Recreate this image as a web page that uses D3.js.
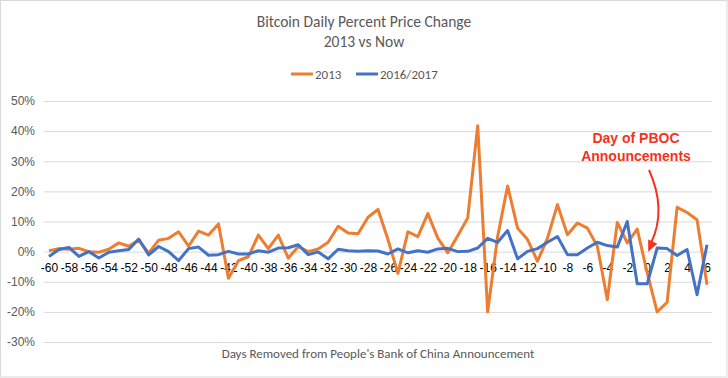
<!DOCTYPE html>
<html>
<head>
<meta charset="utf-8">
<script src="https://cdn.jsdelivr.net/npm/d3@7"></script>
<style>
  body { margin: 0; background: #fff; }
  svg { display: block; }
</style>
</head>
<body>
<div id="chart"></div>
<script>
// days relative to the PBOC announcement
const days = [-60, -59, -58, -57, -56, -55, -54, -53, -52, -51, -50, -49, -48, -47, -46, -45, -44, -43, -42, -41,
  -40, -39, -38, -37, -36, -35, -34, -33, -32, -31, -30, -29, -28, -27, -26, -25, -24, -23, -22, -21,
  -20, -19, -18, -17, -16, -15, -14, -13, -12, -11, -10, -9, -8, -7, -6, -5, -4, -3, -2, -1,
  0, 1, 2, 3, 4, 5, 6];

// daily % change, 2013
const series2013 = [0.3, 1.0, 0.8, 1.1, 0.0, -0.2, 0.8, 2.9, 1.8, 3.8, -0.4, 3.8, 4.4, 6.6, 1.8, 6.8, 5.5, 9.2, -8.8, -3.0,
  -1.7, 5.5, 1.0, 5.5, -2.2, 1.7, 0.0, 0.9, 3.1, 8.4, 6.2, 5.9, 11.4, 14.0, 4.0, -7.2, 6.6, 5.0, 12.6, 4.5,
  -0.4, 5.3, 11.2, 41.8, -20.0, 5.0, 21.8, 7.8, 4.0, -3.2, 4.5, 15.6, 5.6, 9.5, 7.8, 1.8, -16.0, 9.7, 2.9, 7.5,
  -7.0, -20.0, -16.8, 14.7, 13.0, 10.6, -11.0];

// daily % change, 2016/2017
const series2017 = [-1.6, 0.7, 1.4, -1.6, 0.0, -2.1, -0.2, 0.3, 0.7, 4.2, -1.1, 1.7, 0.0, -3.0, 1.0, 1.5, -1.2, -1.0, 0.1, -0.8,
  -0.8, 0.3, -0.2, 1.2, 1.3, 2.3, -1.0, -0.1, -2.4, 0.8, 0.3, 0.1, 0.3, 0.2, -0.8, 0.9, -0.4, 0.3, -0.2, 0.9,
  1.1, 0.0, 0.1, 1.2, 4.4, 3.1, 7.0, -2.4, 0.1, 1.0, 3.1, 5.0, -1.0, -1.0, 1.2, 3.1, 2.0, 1.5, 10.0, -10.7,
  -10.7, 1.2, 1.0, -1.3, 0.7, -14.3, 2.3];

const yTicks = [-30, -20, -10, 0, 10, 20, 30, 40, 50];
const xTickLabels = days.filter(d => d % 2 === 0);

const seriesList = [
  { name: "2013", values: series2013, color: "#ED7D31" },
  { name: "2016/2017", values: series2017, color: "#4472C4" }
];

const width = 728, height = 378;
const plot = { left: 44, right: 712, top: 101, bottom: 342 };
const textGray = "#595959";
const calibri = "Carlito, Lato, 'Open Sans', sans-serif";
const arial = "'Liberation Sans', Arial, sans-serif";

const svg = d3.select("#chart").append("svg")
  .attr("width", width)
  .attr("height", height);

svg.append("rect")
  .attr("x", 0.5).attr("y", 0.5)
  .attr("width", width - 1.5).attr("height", height - 1.5)
  .attr("fill", "#fff")
  .attr("stroke", "#d9d9d9");

const x = d3.scalePoint()
  .domain(days)
  .range([plot.left, plot.right])
  .padding(0.5);

const y = d3.scaleLinear()
  .domain([-30, 50])
  .range([plot.bottom, plot.top]);

// gridlines + y labels
const yAxis = d3.axisLeft(y)
  .tickValues(yTicks)
  .tickSize(-(plot.right - plot.left))
  .tickPadding(9)
  .tickFormat(d => d + "%");

const yg = svg.append("g")
  .attr("transform", `translate(${plot.left},0)`)
  .call(yAxis);
yg.select(".domain").remove();
yg.selectAll(".tick line").attr("stroke", "#d9d9d9");
yg.selectAll(".tick text")
  .attr("fill", textGray)
  .style("font-family", arial)
  .style("font-size", "12px");

// x labels sit next to the zero line
const xAxis = d3.axisBottom(x)
  .tickValues(xTickLabels)
  .tickSize(0)
  .tickPadding(12);

const xg = svg.append("g")
  .attr("transform", `translate(0,${y(0)})`)
  .call(xAxis);
xg.select(".domain").remove();
xg.selectAll(".tick text")
  .attr("fill", "#000")
  .style("font-family", arial)
  .style("font-size", "12px");

// lines
const line = d3.line()
  .x((d, i) => x(days[i]))
  .y(d => y(d));

svg.selectAll("path.series")
  .data(seriesList)
  .join("path")
  .attr("class", "series")
  .attr("fill", "none")
  .attr("stroke", d => d.color)
  .attr("stroke-width", 3)
  .attr("stroke-linejoin", "round")
  .attr("d", d => line(d.values));

// title
svg.append("text")
  .attr("x", 364).attr("y", 27)
  .attr("text-anchor", "middle")
  .attr("fill", textGray)
  .style("font-family", calibri)
  .style("font-size", "15.5px")
  .text("Bitcoin Daily Percent Price Change");
svg.append("text")
  .attr("x", 364).attr("y", 47)
  .attr("text-anchor", "middle")
  .attr("fill", textGray)
  .style("font-family", calibri)
  .style("font-size", "15.5px")
  .text("2013 vs Now");

// legend
const legendPos = [291, 356];
const legend = svg.selectAll("g.legend")
  .data(seriesList)
  .join("g")
  .attr("class", "legend")
  .attr("transform", (d, i) => `translate(${legendPos[i]},74)`);
legend.append("line")
  .attr("x1", 0).attr("x2", 22)
  .attr("stroke", d => d.color)
  .attr("stroke-width", 3);
legend.append("text")
  .attr("x", 24).attr("y", 4.5)
  .attr("fill", textGray)
  .style("font-family", calibri)
  .style("font-size", "13px")
  .text(d => d.name);

// x axis title
svg.append("text")
  .attr("x", (plot.left + plot.right) / 2).attr("y", 358)
  .attr("text-anchor", "middle")
  .attr("fill", textGray)
  .style("font-family", calibri)
  .style("font-size", "13px")
  .text("Days Removed from People's Bank of China Announcement");

// annotation
const red = "#F5321E";
const note = svg.append("text")
  .attr("text-anchor", "middle")
  .attr("fill", red)
  .style("font-family", arial)
  .style("font-size", "14px")
  .style("font-weight", "bold");
note.append("tspan").attr("x", 636).attr("y", 143).text("Day of PBOC");
note.append("tspan").attr("x", 636).attr("y", 161).text("Announcements");

const tip = [x(0) + 1, y(0)];
const start = [649, 170], ctrl = [667, 210], end = [651, 243];
svg.append("path")
  .attr("fill", "none")
  .attr("stroke", red)
  .attr("stroke-width", 2)
  .attr("d", `M${start}Q${ctrl} ${end}`);
const dx = tip[0] - ctrl[0], dy = tip[1] - ctrl[1];
const len = Math.hypot(dx, dy);
const ux = dx / len, uy = dy / len;
const bx = tip[0] - ux * 11, by = tip[1] - uy * 11;
svg.append("path")
  .attr("fill", red)
  .attr("d", `M${tip}L${bx + uy * 5},${by - ux * 5}L${bx - uy * 5},${by + ux * 5}Z`);
</script>
</body>
</html>
